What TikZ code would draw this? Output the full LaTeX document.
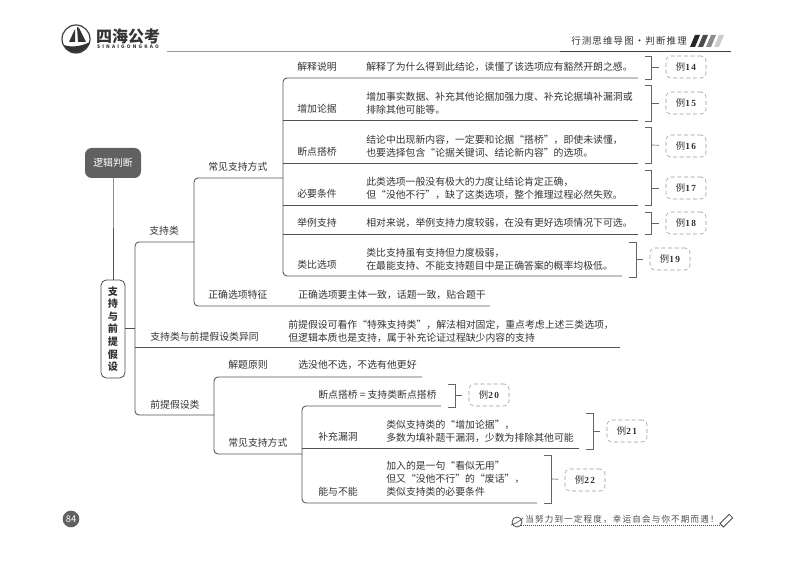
\documentclass[tikz,border=0pt]{standalone}
\usepackage{fontspec}
\setmainfont{Noto Sans CJK SC}
\newfontfamily\titlefont[LetterSpace=12]{Noto Sans CJK SC}
\newfontfamily\handfont[LetterSpace=14]{Noto Sans CJK SC}
\newfontfamily\logofont[LetterSpace=45]{Noto Sans CJK SC}
\newfontfamily\numfont[LetterSpace=15]{Liberation Serif}
\colorlet{ink}{black!80}
\colorlet{wire}{black!68}
\tikzstyle{every node}=[inner sep=0pt,text=ink,font=\fontsize{7.4}{9.75}\selectfont]
\tikzstyle{lab}=[anchor=west,align=left]
\tikzstyle{branch}=[draw=wire,line width=0.65pt]
\tikzstyle{brace}=[draw=black!60,line width=0.5pt]
\tikzstyle{exbox}=[draw=black!40,densely dashed,line width=0.4pt,rounded corners=3.5pt,minimum width=30pt,minimum height=16.5pt,font=\fontsize{7}{8}\selectfont]
\newcommand{\exnum}[1]{例{\numfont\bfseries #1}}

\begin{document}
\begin{tikzpicture}[x=0.75pt, y=-0.75pt]
	\useasboundingbox (0,0) rectangle (800,566);
	\path
	 (113,163) node (n1) [fill=black!62,rounded corners=5pt,minimum width=42pt,minimum height=22.5pt,text=white] {逻辑判断}
	 (113,329) node (n2) [draw=black!70,line width=0.6pt,rounded corners=4pt,minimum width=18pt,minimum height=73.5pt,align=center,font=\fontsize{7.6}{9.45}\selectfont\bfseries] {支\\持\\与\\前\\提\\假\\设}
	 (149,231) node (n3) [lab] {支持类}
	 (208,167) node (n31) [lab] {常见支持方式}
	 (208,295) node (n32) [lab] {正确选项特征}
	 (298,295) node (n32d) [lab] {正确选项要主体一致，话题一致，贴合题干}
	 (150,337) node (n4) [lab] {支持类与前提假设类异同}
	 (288,331) node (n4d) [lab] {前提假设可看作“特殊支持类”，解法相对固定，重点考虑上述三类选项，\\但逻辑本质也是支持，属于补充论证过程缺少内容的支持}
	 (150,405) node (n5) [lab] {前提假设类}
	 (228,365) node (n51) [lab] {解题原则}
	 (298,365) node (n51d) [lab] {选没他不选，不选有他更好}
	 (228,443) node (n52) [lab] {常见支持方式}
	 (318,395) node (n6) [lab] {断点搭桥 = 支持类断点搭桥}
	 (318,437) node (n7) [lab] {补充漏洞}
	 (386,431) node (n7d) [lab] {类似支持类的“增加论据”，\\多数为填补题干漏洞，少数为排除其他可能}
	 (318,492) node (n8) [lab] {能与不能}
	 (386,479) node (n8d) [lab] {加入的是一句“看似无用”\\但又“没他不行”的“废话”，\\类似支持类的必要条件}
	 (297,67) node (n11) [lab] {解释说明}
	 (366,67) node (n11d) [lab] {解释了为什么得到此结论，读懂了该选项应有豁然开朗之感。}
	 (297,109) node (n12) [lab] {增加论据}
	 (366,103) node (n12d) [lab] {增加事实数据、补充其他论据加强力度、补充论据填补漏洞或\\排除其他可能等。}
	 (297,152) node (n13) [lab] {断点搭桥}
	 (366,146) node (n13d) [lab] {结论中出现新内容，一定要和论据“搭桥”，即使未读懂，\\也要选择包含“论据关键词、结论新内容”的选项。}
	 (297,194) node (n14) [lab] {必要条件}
	 (366,188) node (n14d) [lab] {此类选项一般没有极大的力度让结论肯定正确，\\但“没他不行”，缺了这类选项，整个推理过程必然失败。}
	 (297,223) node (n15) [lab] {举例支持}
	 (366,223) node (n15d) [lab] {相对来说，举例支持力度较弱，在没有更好选项情况下可选。}
	 (297,265) node (n16) [lab] {类比选项}
	 (366,259) node (n16d) [lab] {类比支持虽有支持但力度极弱，\\在最能支持、不能支持题目中是正确答案的概率均极低。};

	\path
	 (686,67) node (x14) [exbox] {\exnum{14}}
	 (686,103) node (x15) [exbox] {\exnum{15}}
	 (686,146) node (x16) [exbox] {\exnum{16}}
	 (686,188) node (x17) [exbox] {\exnum{17}}
	 (686,223) node (x18) [exbox] {\exnum{18}}
	 (670,259) node (x19) [exbox] {\exnum{19}}
	 (489,395) node (x20) [exbox] {\exnum{20}}
	 (627,431) node (x21) [exbox] {\exnum{21}}
	 (585,480) node (x22) [exbox] {\exnum{22}};

	\path
	 (113,178) coordinate (a0) (113,280) coordinate (a1)
	 (125,328) coordinate (a2) (135,328) coordinate (a3)
	 (194,242) coordinate (b1) (135,242) coordinate (b2) (135,415) coordinate (b3) (214,415) coordinate (b4)
	 (135,347) coordinate (b5) (620,347) coordinate (b6)
	 (283,178) coordinate (c1) (194,178) coordinate (c2) (194,306) coordinate (c3) (490,306) coordinate (c4)
	 (422,377) coordinate (d1) (214,377) coordinate (d2) (214,454) coordinate (d3) (302,454) coordinate (d4)
	 (441,406) coordinate (e1) (302,406) coordinate (e2) (302,503) coordinate (e3) (537,503) coordinate (e4)
	 (302,448) coordinate (e5) (579,448) coordinate (e6)
	 (638,78) coordinate (r1) (283,78) coordinate (r2) (283,276) coordinate (r3) (622,276) coordinate (r4)
	 (283,120) coordinate (s1) (638,120) coordinate (s2)
	 (283,163) coordinate (s3) (638,163) coordinate (s4)
	 (283,205) coordinate (s5) (638,205) coordinate (s6)
	 (283,234) coordinate (s7) (638,234) coordinate (s8);

	\draw[branch] (n1) -- (a0) -- (a1) (a2) -- (a3);
	\draw[branch,rounded corners=3pt] (b1) -- (b2) -- (b3) -- (b4);
	\draw[branch] (b5) -- (b6);
	\draw[branch,rounded corners=3pt] (c1) -- (c2) -- (c3) -- (c4);
	\draw[branch,rounded corners=3pt] (d1) -- (d2) -- (d3) -- (d4);
	\draw[branch,rounded corners=3pt] (e1) -- (e2) -- (e3) -- (e4);
	\draw[branch] (e5) -- (e6);
	\draw[branch,rounded corners=3pt] (r1) -- (r2) -- (r3) -- (r4);
	\draw[branch] (s1) -- (s2) (s3) -- (s4) (s5) -- (s6) (s7) -- (s8);

	\path
	 (651,67) coordinate (k14) (651,103) coordinate (k15) (651,145) coordinate (k16)
	 (651,188) coordinate (k17) (651,223) coordinate (k18) (636,259) coordinate (k19)
	 (455,395) coordinate (k20) (593,431) coordinate (k21) (551,479) coordinate (k22);

	\draw[brace]
	 (k14) ++(-6,-11) -- ++(6,0) -- ++(0,23) -- ++(-6,0)
	 (k15) ++(-6,-18) -- ++(6,0) -- ++(0,36) -- ++(-6,0)
	 (k16) ++(-6,-18) -- ++(6,0) -- ++(0,36) -- ++(-6,0)
	 (k17) ++(-6,-18) -- ++(6,0) -- ++(0,35) -- ++(-6,0)
	 (k18) ++(-6,-11) -- ++(6,0) -- ++(0,22) -- ++(-6,0)
	 (k19) ++(-7,-17) -- ++(7,0) -- ++(0,35) -- ++(-7,0)
	 (k20) ++(-7,-11) -- ++(7,0) -- ++(0,23) -- ++(-7,0)
	 (k21) ++(-7,-18) -- ++(7,0) -- ++(0,36) -- ++(-7,0)
	 (k22) ++(-7,-24) -- ++(7,0) -- ++(0,48) -- ++(-7,0);
	\draw[brace,shorten >=5pt] (k14) -- (x14);
	\draw[brace,shorten >=5pt] (k15) -- (x15);
	\draw[brace,shorten >=5pt] (k16) -- (x16);
	\draw[brace,shorten >=5pt] (k17) -- (x17);
	\draw[brace,shorten >=5pt] (k18) -- (x18);
	\draw[brace,shorten >=5pt] (k19) -- (x19);
	\draw[brace,shorten >=5pt] (k20) -- (x20);
	\draw[brace,shorten >=5pt] (k21) -- (x21);
	\draw[brace,shorten >=5pt] (k22) -- (x22);

	\draw[black!75,line width=0.9pt] (76,39) circle (14);
	\fill[black!80] (77,27) -- (79,28) -- (86,42) -- (78,42) -- cycle (75,29) -- (75,42) -- (69,42) -- cycle;
	\fill[black!80] (64,45) .. controls (72,48) and (82,46) .. (90,42) .. controls (88,49) and (80,53) .. (75,53) .. controls (70,53) and (66,49) .. (64,45) -- cycle;
	\path
	 (128,36) node (g1) [font=\fontsize{12}{12}\selectfont\bfseries] {四海公考}
	 (128,47) node (g2) [font=\fontsize{3.6}{4}\logofont\bfseries] {SINAIGONGKAO}
	 (629,41) node (g3) [font=\fontsize{7.1}{9}\titlefont] {行测思维导图·判断推理}
	 (71,519) node (g4) [circle,fill=black!62,minimum size=12.5pt,text=white,font=\fontsize{7}{8}\selectfont] {84}
	 (622,519) node (g5) [text=black!70,font=\fontsize{6.4}{7}\handfont] {当努力到一定程度，幸运自会与你不期而遇！};

	\draw[black!40,line width=0.6pt] (167,51) -- (560,51);
	\draw[black!75,line width=0.6pt] (560,51) -- (731,51);
	\fill[black!85] (690,47) -- (695,35) -- (700,35) -- (695,47) -- cycle;
	\fill[black!70] (698,47) -- (703,35) -- (708,35) -- (703,47) -- cycle;
	\fill[black!45] (706,47) -- (711,35) -- (716,35) -- (711,47) -- cycle;
	\fill[black!20] (714,47) -- (719,35) -- (724,35) -- (719,47) -- cycle;

	\draw[black!70,densely dotted,line width=0.5pt] (521,525) -- (722,525);
	\draw[black!70,line width=0.6pt] (517,522) circle (5);
	\draw[black!70,line width=0.5pt] (511,525) .. controls (515,524) and (520,521) .. (523,518);
	\draw[black!70,line width=0.6pt,rotate around={45:(726,521)}] (720,518.5) rectangle (733,523.5);
\end{tikzpicture}
\end{document}
